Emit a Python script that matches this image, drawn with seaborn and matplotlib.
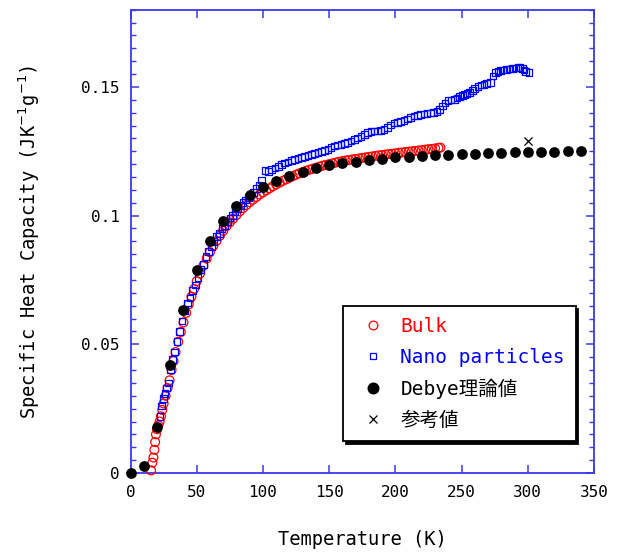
import numpy as np
import pandas as pd
import matplotlib
matplotlib.use("Agg")
import matplotlib.pyplot as plt
from matplotlib.lines import Line2D
from matplotlib.ticker import MultipleLocator
import seaborn as sns

# ---------------- data ----------------
bulk_T = [15.5, 16.5, 17.3, 18.0, 18.6, 19.2, 20.0, 21.0, 22.0, 23.0, 24.0, 25.0,
          26.5, 28.0, 29.5, 31.0, 32.5, 34.0, 36.0, 38.0, 40.0, 42.0, 44.0, 46.0,
          48.0, 50.0, 52.5, 55.0, 57.5, 60.0, 62.5, 65.0, 67.5, 70.0, 72.5, 75.0,
          77.5, 80.0, 82.5, 85.0, 87.5, 90.0, 92.5, 95.0, 97.5, 100.0, 102.5, 105.0,
          107.5, 110.0, 112.5, 115.0, 117.5, 120.0, 122.5, 125.0, 127.5, 130.0,
          132.5, 135.0, 137.5, 140.0, 142.5, 145.0, 147.5, 150.0, 152.5, 155.0,
          157.5, 160.0, 162.5, 165.0, 167.5, 170.0, 172.5, 175.0, 177.5, 180.0,
          182.5, 185.0, 187.5, 190.0, 192.5, 195.0, 197.5, 200.0, 202.5, 205.0,
          207.5, 210.0, 212.5, 215.0, 217.5, 220.0, 222.5, 225.0, 227.5, 230.0,
          232.5, 234.0]
bulk_C = [0.001, 0.004, 0.006, 0.009, 0.012, 0.015, 0.017, 0.0185, 0.020, 0.022, 0.0245, 0.027,
          0.030, 0.033, 0.036, 0.040, 0.0435, 0.047, 0.051, 0.0548, 0.0585, 0.0622, 0.0655, 0.0685,
          0.0715, 0.0745, 0.0775, 0.0805, 0.0833, 0.0858, 0.0882, 0.0902, 0.0922, 0.0941, 0.0959, 0.0974,
          0.0988, 0.1002, 0.1016, 0.1029, 0.1041, 0.1052, 0.1062, 0.1072, 0.1082, 0.1090, 0.1098, 0.1106,
          0.1114, 0.1121, 0.1128, 0.1135, 0.1141, 0.1147, 0.1153, 0.1159, 0.1164, 0.1169,
          0.1174, 0.1178, 0.1182, 0.1186, 0.1190, 0.1194, 0.1197, 0.1200, 0.1203, 0.1206,
          0.1209, 0.1212, 0.1214, 0.1216, 0.1218, 0.1220, 0.1222, 0.1224, 0.1226, 0.1228,
          0.1230, 0.1232, 0.1234, 0.1235, 0.1237, 0.1239, 0.1240, 0.1242, 0.1244, 0.1245,
          0.1247, 0.1248, 0.1250, 0.1251, 0.1253, 0.1254, 0.1256, 0.1258, 0.1259, 0.1261,
          0.1263, 0.1264]

nano_T = [22.3, 23.5, 24.8, 26.0, 27.3, 28.5, 30.0, 31.5, 33.0, 35.0, 37.0, 39.0,
          41.0, 43.0, 45.0, 47.0, 49.0, 51.0, 53.0, 55.0, 57.0, 59.0, 61.0, 63.0,
          65.0, 67.0, 69.0, 71.0, 73.0, 75.0, 77.0, 79.0, 81.0, 83.0, 85.0, 87.0,
          89.0, 91.0, 93.0, 95.0, 97.0, 99.0, 101.5, 104.0, 106.5, 109.0, 111.5, 114.0,
          116.5, 119.0, 121.5, 124.0, 126.5, 129.0, 131.5, 134.0, 136.5, 139.0, 141.5,
          144.0, 146.5, 149.0, 151.5, 154.0, 156.5, 159.0, 161.5, 164.0, 166.5, 169.0,
          171.5, 174.0, 176.5, 179.0, 181.5, 184.0, 186.5, 189.0, 191.5, 194.0, 196.5,
          199.0, 201.5, 204.0, 206.5, 209.0, 211.5, 214.0, 216.5, 219.0, 221.5, 224.0,
          226.5, 229.0, 231.5, 233.5, 235.5, 237.5, 239.7, 242.0, 244.8, 246.5, 248.5,
          250.5, 252.3, 254.0, 256.0, 258.0, 259.9, 262.5, 264.9, 266.8, 268.7, 271.7,
          273.7, 275.7, 277.5, 279.5, 281.5, 283.8, 286.0, 288.3, 290.5, 292.5, 294.2,
          295.8, 297.0, 298.3, 300.8]
nano_C = [0.022, 0.026, 0.029, 0.031, 0.033, 0.035, 0.040, 0.044, 0.047, 0.051, 0.055, 0.059,
          0.063, 0.066, 0.068, 0.071, 0.073, 0.076, 0.079, 0.081, 0.084, 0.086, 0.088, 0.090,
          0.092, 0.093, 0.095, 0.096, 0.0975, 0.099, 0.100, 0.1015, 0.1025, 0.104, 0.105, 0.106,
          0.107, 0.108, 0.109, 0.1105, 0.1118, 0.1138, 0.1175, 0.1172, 0.1180, 0.1185, 0.1192,
          0.1198, 0.1204, 0.1208, 0.1213, 0.1218, 0.1222, 0.1226, 0.1230, 0.1234, 0.1237,
          0.1240, 0.1245, 0.1250, 0.1254, 0.1258, 0.1264, 0.1270, 0.1274, 0.1277, 0.1280,
          0.1285, 0.1290, 0.1296, 0.1302, 0.1308, 0.1315, 0.1322, 0.1326, 0.1328, 0.1329,
          0.1330, 0.1335, 0.1342, 0.1352, 0.1360, 0.1362, 0.1366, 0.1370, 0.1375, 0.1381,
          0.1387, 0.1390, 0.1392, 0.1395, 0.1397, 0.1399, 0.1401, 0.1404, 0.1412, 0.1426,
          0.1438, 0.1446, 0.1449, 0.1452, 0.1457, 0.1462, 0.1467, 0.1471, 0.1474, 0.1479,
          0.1487, 0.1495, 0.1501, 0.1507, 0.1510, 0.1514, 0.1516, 0.1542, 0.1557, 0.1560,
          0.1563, 0.1566, 0.1568, 0.1570, 0.1572, 0.1574, 0.1576, 0.1575, 0.1572, 0.1566,
          0.1559, 0.1555]

debye_T = [0, 10, 20, 30, 40, 50, 60, 70, 80, 90, 100, 110, 120, 130, 140, 150, 160,
           170, 180, 190, 200, 210, 220, 230, 240, 250, 260, 270, 280, 290, 300, 310,
           320, 330, 340]
debye_C = [0.0, 0.0026, 0.0179, 0.042, 0.0632, 0.0789, 0.0900, 0.0979, 0.1036, 0.1079,
           0.1110, 0.1136, 0.1155, 0.1170, 0.1185, 0.1195, 0.1203, 0.1210, 0.1216, 0.1221,
           0.1226, 0.1229, 0.1232, 0.1234, 0.1236, 0.1238, 0.1240, 0.1242, 0.1244, 0.1246,
           0.1247, 0.1248, 0.1249, 0.1250, 0.1251]

ref_T = [300]
ref_C = [0.129]

series_labels = ["Bulk", "Nano particles", "Debye理論値", "参考値"]
x_ticks = [0, 50, 100, 150, 200, 250, 300, 350]
y_ticks = [0, 0.05, 0.1, 0.15]
y_tick_labels = ["0", "0.05", "0.1", "0.15"]
x_label = "Temperature (K)"
y_label = "Specific Heat Capacity (JK$^{-1}$g$^{-1}$)"

# ---------------- style ----------------
sns.set_style("white")
MONO = ["DejaVu Sans Mono", "Noto Sans CJK JP"]
plt.rcParams["font.family"] = MONO
plt.rcParams["mathtext.fontset"] = "dejavusans"

SPINE = "#3838ee"
fig = plt.figure(figsize=(6.18, 5.56), dpi=100)
ax = fig.add_axes([0.2112, 0.1493, 0.75, 0.8333])

df_bulk = pd.DataFrame({"T": bulk_T, "C": bulk_C})
df_nano = pd.DataFrame({"T": nano_T, "C": nano_C})
df_deb = pd.DataFrame({"T": debye_T, "C": debye_C})
df_ref = pd.DataFrame({"T": ref_T, "C": ref_C})

sns.scatterplot(data=df_bulk, x="T", y="C", ax=ax, marker="o", s=40,
                color="red", facecolor="none", edgecolor="red", linewidth=0.9,
                legend=False, zorder=3, clip_on=False)
sns.scatterplot(data=df_nano, x="T", y="C", ax=ax, marker="s", s=23,
                color="blue", facecolor="none", edgecolor="blue", linewidth=0.9,
                legend=False, zorder=4, clip_on=False)
sns.scatterplot(data=df_deb, x="T", y="C", ax=ax, marker="o", s=60,
                color="black", edgecolor="black", linewidth=0,
                legend=False, zorder=5, clip_on=False)
sns.scatterplot(data=df_ref, x="T", y="C", ax=ax, marker="x", s=34,
                color="black", linewidth=0.9, legend=False, zorder=6)

ax.set_xlim(0, 350)
ax.set_ylim(0, 0.18)
ax.set_xticks(x_ticks)
ax.set_yticks(y_ticks)
ax.set_yticklabels(y_tick_labels)
ax.yaxis.set_minor_locator(MultipleLocator(0.005))

for sp in ax.spines.values():
    sp.set_visible(True)
    sp.set_color(SPINE)
    sp.set_linewidth(1.3)

ax.tick_params(axis="x", which="major", direction="in", length=6, width=1.1,
               color=SPINE, top=True, bottom=True, labelsize=11.5, pad=8.5,
               labelcolor="black")
ax.tick_params(axis="y", which="major", direction="in", length=6, width=1.1,
               color=SPINE, left=True, right=True, labelsize=11.5, pad=8,
               labelcolor="black")
ax.tick_params(axis="y", which="minor", direction="in", length=3.5, width=1.0,
               color=SPINE, left=True, right=True)
ax.tick_params(axis="x", which="minor", bottom=False, top=False)

ax.set_xlabel(x_label, fontsize=13.5, color="black")
ax.set_ylabel(y_label, fontsize=13.5, color="black")
ax.xaxis.set_label_coords(0.5, -0.124)
ax.yaxis.set_label_coords(-0.19, 0.5)

handles = [
    Line2D([], [], linestyle="", marker="o", markersize=6.3, markerfacecolor="none",
           markeredgecolor="red", markeredgewidth=0.9),
    Line2D([], [], linestyle="", marker="s", markersize=4.6, markerfacecolor="none",
           markeredgecolor="blue", markeredgewidth=0.9),
    Line2D([], [], linestyle="", marker="o", markersize=7.6, markerfacecolor="black",
           markeredgecolor="black"),
    Line2D([], [], linestyle="", marker="x", markersize=5.8, markeredgecolor="black",
           markeredgewidth=0.9),
]
leg = ax.legend(handles, series_labels, loc="upper left",
                bbox_to_anchor=(0.4585, 0.3605), borderaxespad=0,
                frameon=True, fancybox=False, shadow={"color": "black", "alpha": 1},
                prop={"family": MONO, "size": 14},
                handlelength=2.0, handletextpad=0.4, labelspacing=0.62,
                borderpad=0.55, framealpha=1)
leg.get_frame().set_edgecolor("black")
leg.get_frame().set_linewidth(1.3)
text_colors = ["red", "blue", "black", "black"]
for t, c in zip(leg.get_texts(), text_colors):
    t.set_color(c)

fig.savefig("out.png", dpi=100, facecolor="white")
